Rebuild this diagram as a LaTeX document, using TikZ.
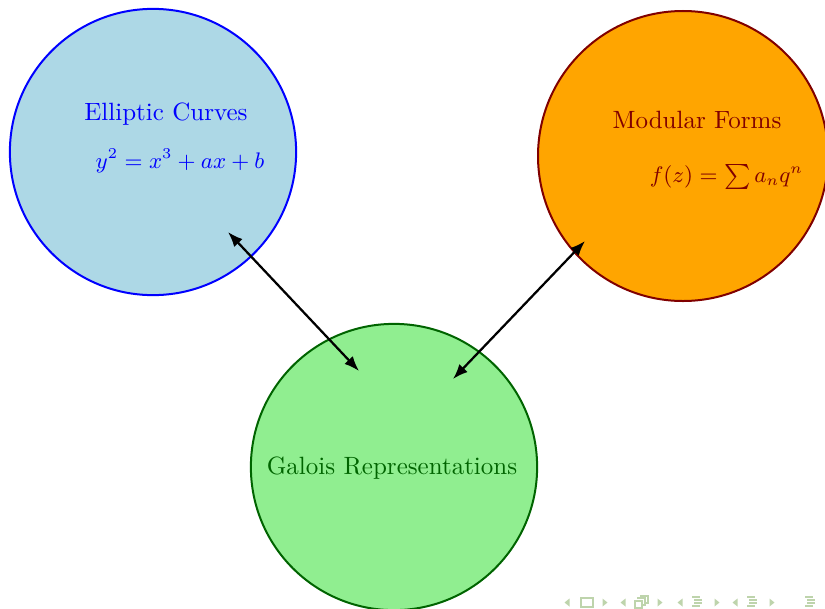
\documentclass[tikz,border=0pt]{standalone}
\usetikzlibrary{positioning,arrows.meta}
\definecolor{lightblue}{RGB}{173,216,230}
\definecolor{lightgreen}{RGB}{144,238,144}
\definecolor{darkgreen}{RGB}{0,100,0}
\definecolor{maroon}{RGB}{128,0,0}
\definecolor{orange}{RGB}{255,165,0}
\definecolor{navgrey}{RGB}{190,212,172}
\begin{document}
\begin{tikzpicture}[x=0.4pt,y=-0.4pt,on grid,
  topic/.style={circle,thick,minimum size=114.5pt,inner sep=0pt},
  link/.style={{Latex[length=6pt,width=4.6pt]}-{Latex[length=6pt,width=4.6pt]},line width=0.9pt},
  navtip/.style={fill=navgrey,draw=none}]
      \useasboundingbox (0,0) rectangle (825,608);
      \node[topic,fill=lightgreen,draw=darkgreen,text=darkgreen] (galois) at (394,467) {};
      \node[topic,fill=lightblue,draw=blue] (elliptic) [above left=126pt and 96.4pt of galois] {};
      \node[topic,fill=orange,draw=maroon,minimum size=116pt] (modular) [above right=124.4pt and 115.6pt of galois] {};
      \node[text=darkgreen] (gal_name) [below left=0.6pt and 0.8pt of galois] {Galois Representations};
      \node[text=blue] (ell_name) [above right=15.2pt and 5.2pt of elliptic] {Elliptic Curves};
      \node[text=blue,font=\small] (ell_eq) [below right=3.6pt and 10.8pt of elliptic] {$y^2 = x^3 + ax + b$};
      \node[text=maroon] (mod_name) [above right=14.4pt and 5.6pt of modular] {Modular Forms};
      \node[text=maroon,font=\small] (mod_eq) [below right=8.4pt and 17.4pt of modular] {$f(z) = \sum a_n q^n$};
      % arrow ends
      \coordinate[below right=32pt and 30pt of elliptic] (ell_end);
      \coordinate[below left=34pt and 39.2pt of modular] (mod_end);
      \coordinate[above left=38.4pt and 14pt of galois] (gal_left);
      \coordinate[above right=35.2pt and 23.6pt of galois] (gal_right);
      \draw[link] (ell_end) -- (gal_left);
      \draw[link] (mod_end) -- (gal_right);
      % navigation symbols
      \foreach \xl/\xr in {567/605,623/660,680/717,735/772} {
        \fill[navtip] (\xl+2.5,598.5) -- (\xl-2.5,602.5) -- (\xl+2.5,606.5) -- cycle;
        \fill[navtip] (\xr-2.5,598.5) -- (\xr+2.5,602.5) -- (\xr-2.5,606.5) -- cycle;
      }
      \draw[navgrey,line width=0.5pt] (581,598) rectangle (593,607);
      \draw[navgrey,line width=0.5pt] (635,601) rectangle (642,608) (638,599) -- (638,598) -- (645,598) -- (645,605) -- (642,605)
        (641,597) -- (641,596) -- (648,596) -- (648,603) -- (645,603);
      \foreach \xm in {697,752,810} {
        \draw[navgrey,line width=0.9pt] (\xm-5,597) -- (\xm+3,597) (\xm-3,600) -- (\xm+5,600)
          (\xm-3,603) -- (\xm+5,603) (\xm-5,606) -- (\xm+3,606);
      }
    \end{tikzpicture}
\end{document}
